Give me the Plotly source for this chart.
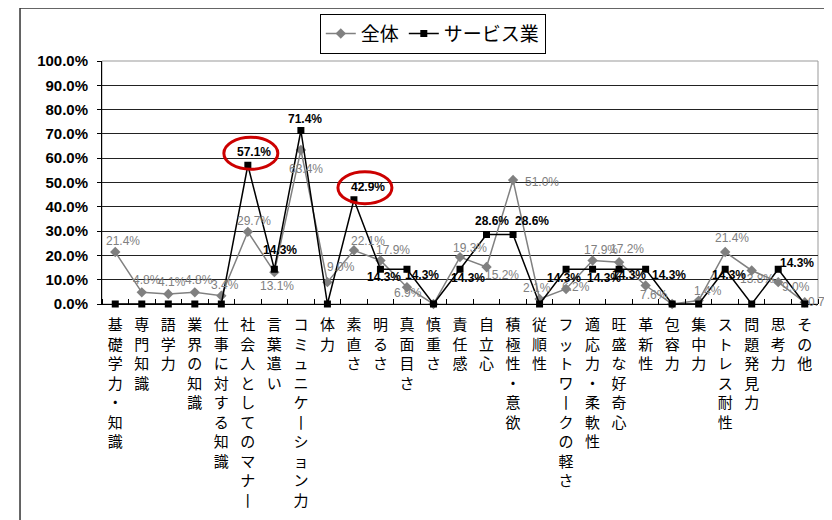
import plotly.graph_objects as go

# ---------------- data ----------------
categories = ["基礎学力・知識", "専門知識", "語学力", "業界の知識", "仕事に対する知識",
              "社会人としてのマナー", "言葉遣い", "コミュニケーション力", "体力", "素直さ",
              "明るさ", "真面目さ", "慎重さ", "責任感", "自立心", "積極性・意欲", "従順性",
              "フットワークの軽さ", "適応力・柔軟性", "旺盛な好奇心", "革新性", "包容力",
              "集中力", "ストレス耐性", "問題発見力", "思考力", "その他"]
zentai = [21.4, 4.8, 4.1, 4.8, 3.4, 29.7, 13.1, 63.4, 9.0, 22.1, 17.9, 6.9, 0.0, 19.3,
          15.2, 51.0, 2.1, 6.2, 17.9, 17.2, 7.6, 0.0, 1.4, 21.4, 13.8, 9.0, 0.7]
service = [0.0, 0.0, 0.0, 0.0, 0.0, 57.1, 14.3, 71.4, 0.0, 42.9, 14.3, 14.3, 0.0, 14.3,
           28.6, 28.6, 0.0, 14.3, 14.3, 14.3, 14.3, 0.0, 0.0, 14.3, 0.0, 14.3, 0.0]
series_names = ["全体", "サービス業"]
highlighted = ["社会人としてのマナー", "素直さ"]
y_ticks = [0, 10, 20, 30, 40, 50, 60, 70, 80, 90, 100]
y_ticktext = ["0.0%", "10.0%", "20.0%", "30.0%", "40.0%", "50.0%", "60.0%", "70.0%",
              "80.0%", "90.0%", "100.0%"]

# ---------------- label placement (pixel offsets dx, dy; None = no label) ----------------
zentai_off = [(8, -11), (5, -12), (4, -12), (4, -12), (4, -11), (6, -11), (3, 14), (5, 19),
              (14, -15), (14, -9), (13, -11), (1, 6), None, (10, -9), (15, 8), (29, 2),
              (-3, -11), (10, -2), (8, -11), (8, -13), (8, 9), None, (9, -10), (7, -14),
              (5, 9), (18, 5), (17, 0)]
service_off = [None, None, None, None, None, (6, -13), (6, -19), (4, -12), None, (14, -13),
               (4, 8), (15, 6), None, (8, 9), (5, -14), (19, -14), None, (-2, 9), (11, 9),
               (10, 6), (23, 6), None, None, (4, 6), None, (19, -6), None]

GRAY = "#808080"
x_idx = list(range(len(categories)))


def vertical(s):
    return "<br>".join("丨" if c == "ー" else c for c in s)


fig = go.Figure()
fig.add_trace(go.Scatter(
    x=x_idx, y=zentai, name=series_names[0], mode="lines+markers",
    line=dict(color=GRAY, width=1.5),
    marker=dict(symbol="diamond", size=8, color=GRAY),
    cliponaxis=False))
fig.add_trace(go.Scatter(
    x=x_idx, y=service, name=series_names[1], mode="lines+markers",
    line=dict(color="black", width=1.5),
    marker=dict(symbol="square", size=7, color="black"),
    cliponaxis=False))

annotations = []
for vals, offs, col, wt in [(zentai, zentai_off, GRAY, "normal"),
                            (service, service_off, "black", "bold")]:
    for i, (v, o) in enumerate(zip(vals, offs)):
        if o is None:
            continue
        annotations.append(dict(
            x=i, y=v, xref="x", yref="y", text=f"{v:.1f}%", showarrow=False,
            xshift=o[0], yshift=-o[1],
            font=dict(family="Liberation Sans, Arial", size=12, color=col, weight=wt)))

shapes = [
    # outer chart frame
    dict(type="rect", xref="paper", yref="paper", x0=-0.1145, x1=1.05, y0=-0.95, y1=1.218,
         line=dict(color="#333333", width=1.5), layer="below"),
    # plot area border
    dict(type="rect", xref="paper", yref="paper", x0=0, x1=1, y0=0, y1=1,
         line=dict(color="#999999", width=1), layer="below"),
]
for name in highlighted:
    i = categories.index(name)
    o = service_off[i]
    cx, cy = o[0] - 3, -o[1] - 1
    shapes.append(dict(type="circle", xref="x", yref="y", xsizemode="pixel", ysizemode="pixel",
                       xanchor=i, yanchor=service[i],
                       x0=cx - 27, x1=cx + 27, y0=cy - 16, y1=cy + 16,
                       line=dict(color="#cc0000", width=3)))

# the page body adds an 8px offset; margins compensate for it
fig.update_layout(
    template=None,
    width=832, height=520,
    margin=dict(l=94, r=22, t=53, b=224, autoexpand=False),
    paper_bgcolor="white", plot_bgcolor="white",
    showlegend=True,
    legend=dict(orientation="h", x=0.462, xanchor="center", y=1.195, yanchor="top",
                bordercolor="black", borderwidth=1, bgcolor="white",
                font=dict(family="Noto Sans CJK JP", size=19, color="black"),
                itemwidth=30, tracegroupgap=0),
    annotations=annotations,
    shapes=shapes,
)
fig.update_xaxes(
    automargin=False,
    range=[-0.5, len(categories) - 0.5],
    tickvals=x_idx, ticktext=[vertical(c) for c in categories],
    ticks="", showgrid=False, zeroline=False,
    showline=True, linecolor="black", linewidth=1,
    tickfont=dict(family="Noto Sans CJK JP", size=15, color="black"),
    tickangle=0, ticklabelstandoff=7,
    minor=dict(tickvals=[i - 0.5 for i in range(len(categories) + 1)], ticks="inside",
               ticklen=5, tickcolor="black", showgrid=False),
)
fig.update_yaxes(
    automargin=False,
    range=[0, 100], tickvals=y_ticks, ticktext=y_ticktext,
    showgrid=True, gridcolor="#222222", gridwidth=1, zeroline=False,
    showline=True, linecolor="black", linewidth=1,
    ticks="outside", ticklen=4, tickcolor="black", ticklabelstandoff=6,
    tickfont=dict(family="Liberation Sans, Arial", size=15, color="black", weight="bold"),
)

fig.write_html("out.html")
